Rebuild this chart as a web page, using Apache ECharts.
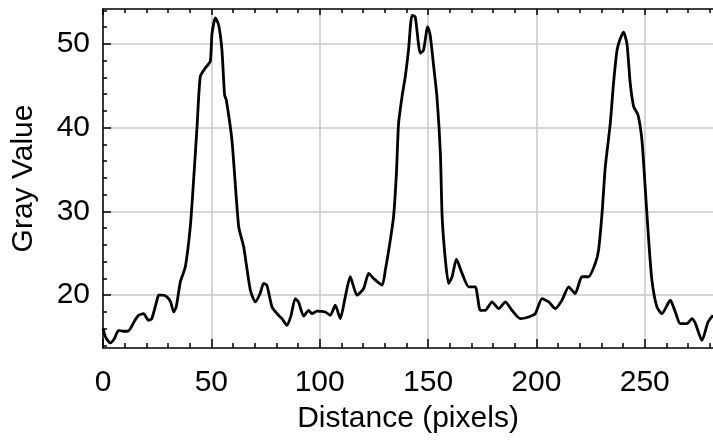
<!DOCTYPE html>
<html>
<head>
<meta charset="utf-8">
<script src="https://cdn.jsdelivr.net/npm/echarts@6/dist/echarts.min.js"></script>
<style>
  html, body { margin: 0; padding: 0; background: #fff; }
  #chart { width: 713px; height: 443px; }
</style>
</head>
<body>
<div id="chart"></div>
<script>
// profile: distance (pixels) and gray value
const distance = [
  0, 1.2, 3.4, 5.2, 7.2, 9.5, 11.3, 12.6, 14.5, 16.4, 18.7, 21.0, 22.5, 24.9, 25.7, 27.5, 29.5, 31.2, 32.6, 33.8,
  35.7, 38.0, 40.3, 41.8, 43.4, 44.9, 47.2, 49.5, 50.3, 51.9, 53.4, 54.9, 56.1, 56.9, 59.5, 62.6, 64.9, 68.0,
  70.3, 72.5, 74.1, 75.6, 78.0, 80.3, 82.6, 84.9, 86.8, 88.7, 90.2, 92.6, 94.9, 96.4, 98.7, 102.6, 104.9, 107.2,
  109.5, 111.8, 114.1, 117.2, 120.3, 122.6, 124.9, 128.8, 130.3, 132.6, 134.1, 135.4, 136.4, 138.0, 139.5,
  141.0, 142.6, 144.1, 146.4, 147.9, 149.8, 150.9, 152.6, 154.1, 155.7, 156.5, 158.0, 159.5, 161.1, 163.1,
  165.7, 168.7, 171.8, 174.1, 176.4, 179.5, 182.6, 185.7, 188.7, 192.6, 196.4, 199.5, 202.6, 205.7, 208.7,
  211.8, 214.9, 217.9, 221.0, 224.1, 227.2, 228.7, 230.3, 231.8, 234.1, 235.6, 237.2, 238.7, 240.2, 241.8,
  243.3, 244.9, 246.9, 248.7, 250.2, 251.8, 253.3, 255.6, 257.9, 261.8, 264.1, 266.4, 269.5, 271.8, 273.4,
  276.4, 279.2, 281.5
];
const grayValue = [
  16.0, 15.0, 14.3, 14.8, 15.8, 15.7, 15.7, 16.0, 16.9, 17.6, 17.8, 17.0, 17.2, 19.4, 20.0, 20.0, 19.8, 19.2, 18.0, 18.6,
  21.6, 23.4, 28.2, 33.7, 40.1, 46.1, 47.1, 47.9, 51.2, 53.1, 52.2, 49.2, 43.9, 43.3, 38.5, 28.2, 25.8, 20.6,
  19.2, 20.2, 21.4, 21.2, 18.6, 17.8, 17.2, 16.4, 17.6, 19.6, 19.2, 17.5, 18.2, 17.8, 18.1, 18.0, 17.6, 18.8,
  17.2, 19.8, 22.2, 20.0, 20.8, 22.6, 22.0, 21.2, 23.0, 26.6, 29.4, 34.5, 40.5, 43.7, 46.1,
  49.3, 53.4, 53.2, 48.9, 49.2, 52.0, 51.2, 47.3, 43.7, 36.9, 29.4, 24.2, 21.4, 22.2, 24.3,
  22.6, 21.0, 21.0, 18.2, 18.2, 19.2, 18.4, 19.2, 18.2, 17.2, 17.4, 17.8, 19.6, 19.2, 18.4,
  19.4, 21.0, 20.2, 22.2, 22.2, 23.8, 25.4, 29.8, 35.3, 40.5, 45.3, 49.2, 50.6, 51.4, 50.0,
  45.3, 42.5, 41.5, 38.5, 32.9, 26.6, 21.8, 18.6, 17.8, 19.4, 18.0, 16.6, 16.6, 17.2, 16.6,
  14.6, 16.8, 17.6
];
const xMajorTicks = [0, 50, 100, 150, 200, 250];
const xMinorTicks = [10, 20, 30, 40, 60, 70, 80, 90, 110, 120, 130, 140, 160, 170, 180, 190,
  210, 220, 230, 240, 260, 270, 280];
const yMajorTicks = [20, 30, 40, 50];
const yMinorTicks = [14, 16, 18, 22, 24, 26, 28, 32, 34, 36, 38, 42, 44, 46, 48, 52, 54];

const xMin = 0, xMax = 281.5;
const yMin = 13.7, yMax = 54.15;

const labelFont = { fontFamily: 'Liberation Sans, Arial, sans-serif', fontSize: 30, color: '#000' };
const frame = { show: true, lineStyle: { color: '#000', width: 1.5 } };
const tickStyle = { color: '#000', width: 1.5 };

const chart = echarts.init(document.getElementById('chart'));
const rect = { left: 103, right: 0, top: 9, bottom: 95 };

chart.setOption({
  animation: false,
  backgroundColor: '#fff',
  grid: [Object.assign({}, rect), Object.assign({}, rect)],
  xAxis: [
    {
      gridIndex: 0, type: 'value', position: 'bottom', min: xMin, max: xMax,
      axisLine: frame,
      axisTick: { show: true, inside: true, length: 9, customValues: xMajorTicks, lineStyle: tickStyle },
      axisLabel: Object.assign({ margin: 20, customValues: xMajorTicks }, labelFont),
      splitLine: { show: true, lineStyle: { color: '#c8c8c8', width: 1.5 } },
      name: 'Distance (pixels)', nameLocation: 'middle', nameGap: 56,
      nameTextStyle: labelFont
    },
    {
      gridIndex: 0, type: 'value', position: 'top', min: xMin, max: xMax,
      axisLine: frame,
      axisTick: { show: true, inside: true, length: 6, customValues: xMajorTicks, lineStyle: tickStyle },
      axisLabel: { show: false }, splitLine: { show: false }
    },
    {
      gridIndex: 1, type: 'value', position: 'bottom', min: xMin, max: xMax,
      axisLine: { show: false },
      axisTick: { show: true, inside: true, length: 5, customValues: xMinorTicks, lineStyle: tickStyle },
      axisLabel: { show: false }, splitLine: { show: false }
    },
    {
      gridIndex: 1, type: 'value', position: 'top', min: xMin, max: xMax,
      axisLine: { show: false },
      axisTick: { show: true, inside: true, length: 4, customValues: xMinorTicks, lineStyle: tickStyle },
      axisLabel: { show: false }, splitLine: { show: false }
    }
  ],
  yAxis: [
    {
      gridIndex: 0, type: 'value', position: 'left', min: yMin, max: yMax,
      axisLine: frame,
      axisTick: { show: true, inside: true, length: 8, customValues: yMajorTicks, lineStyle: tickStyle },
      axisLabel: Object.assign({ margin: 13, customValues: yMajorTicks }, labelFont),
      splitLine: { show: true, lineStyle: { color: '#c8c8c8', width: 1.5 } },
      name: 'Gray Value', nameLocation: 'middle', nameGap: 64,
      nameTextStyle: labelFont
    },
    {
      gridIndex: 1, type: 'value', position: 'left', min: yMin, max: yMax,
      axisLine: { show: false },
      axisTick: { show: true, inside: true, length: 4, customValues: yMinorTicks, lineStyle: tickStyle },
      axisLabel: { show: false }, splitLine: { show: false }
    }
  ],
  series: [{
    type: 'line',
    xAxisIndex: 0, yAxisIndex: 0,
    data: distance.map((d, i) => [d, grayValue[i]]),
    showSymbol: false,
    smooth: 0.2,
    lineStyle: { color: '#000', width: 2.8 },
    z: 5
  }]
});
</script>
</body>
</html>
